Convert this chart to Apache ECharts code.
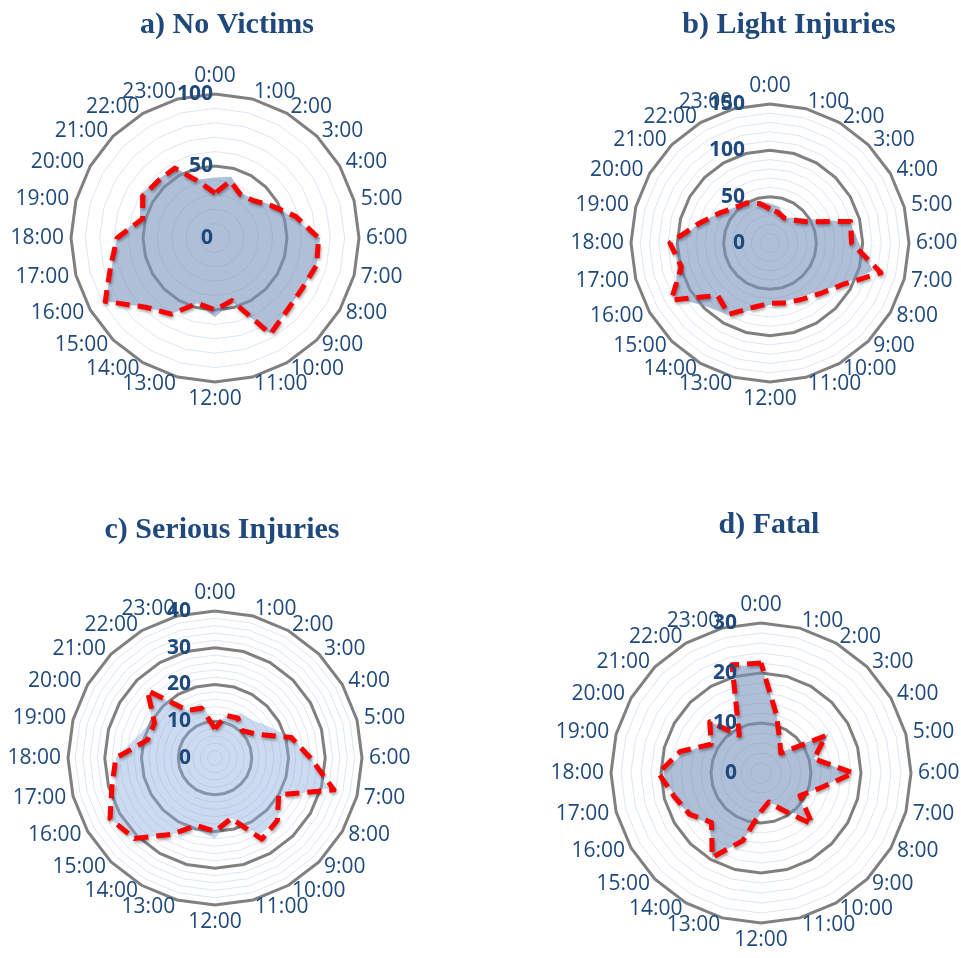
<!DOCTYPE html>
<html>
<head>
<meta charset="utf-8">
<script src="https://cdn.jsdelivr.net/npm/echarts@6/dist/echarts.min.js"></script>
<style>
  html, body { margin: 0; background: #fff; }
  #chart { width: 961px; height: 958px; }
</style>
</head>
<body>
<div id="chart"></div>
<script>
const hours = ['0:00', '1:00', '2:00', '3:00', '4:00', '5:00', '6:00', '7:00', '8:00', '9:00', '10:00', '11:00',
  '12:00', '13:00', '14:00', '15:00', '16:00', '17:00', '18:00', '19:00', '20:00', '21:00', '22:00', '23:00'];

// shaded area / red dashed line, one pair per panel
const noVictimsArea = [42, 44, 36, 38, 46, 56, 73, 73, 70, 71, 77, 46, 55, 47, 61, 68, 88, 74, 68, 54, 60, 57, 56, 42];
const noVictimsLine = [31, 41, 35, 37, 45, 58, 72, 73, 70, 71, 77, 45, 50, 47, 61, 68, 88, 75, 68, 52, 58, 56, 56, 40];
const lightArea = [43, 40, 31, 39, 51, 89, 96, 115, 90, 74, 67, 65, 67, 75, 90, 97, 118, 104, 102, 80, 64, 54, 50, 47];
const lightLine = [37, 34, 31, 35, 46, 90, 88, 124, 90, 77, 70, 67, 65, 72, 89, 80, 123, 99, 108, 80, 64, 54, 50, 44];
const seriousArea = [9, 12, 14, 14.5, 17, 21.5, 26, 32, 21, 24, 24, 17, 22, 20, 24, 31, 33, 28, 27, 22, 20, 25, 15, 15.5];
const seriousLine = [8, 12, 12.5, 10.5, 13, 21.5, 26, 33.5, 20, 24, 25.5, 17, 20, 19, 24, 31, 33, 29, 27, 19, 19, 26, 15, 14];
const fatalArea = [21.6, 12, 8, 6, 15.7, 11, 18, 12, 9, 12.7, 8, 6, 8, 14, 19.5, 14.5, 16.7, 18, 19.6, 16, 11.5, 14.5, 9.3, 22];
const fatalLine = [22, 12, 7.5, 5.6, 15, 11, 18.5, 12, 9, 14.5, 8.5, 6, 7.7, 14, 19.5, 14, 16.5, 18, 20.5, 16.7, 11.5, 14.5, 8.7, 22.4];

const panels = [
  { title: 'a) No Victims', tx: 222, ty: 5, center: [215, 238], radius: 144, max: 100, major: 2, minor: 10,
    labelMargin: 2, area: noVictimsArea, line: noVictimsLine, fill: 'rgba(120,148,188,0.6)' },
  { title: 'b) Light Injuries', tx: 784, ty: 5, center: [770, 243], radius: 139, max: 150, major: 3, minor: 15,
    labelMargin: 25, area: lightArea, line: lightLine, fill: 'rgba(120,148,188,0.6)' },
  { title: 'c) Serious Injuries', tx: 217, ty: 510, center: [215, 758], radius: 147, max: 40, major: 4, minor: 20,
    labelMargin: 24, area: seriousArea, line: seriousLine, fill: 'rgba(140,172,218,0.45)' },
  { title: 'd) Fatal', tx: 764, ty: 505, center: [761, 773], radius: 150, max: 30, major: 3, minor: 15,
    labelMargin: 24, area: fatalArea, line: fatalLine, fill: 'rgba(120,148,188,0.6)' }
];

// radar runs counter-clockwise, so keep 0:00 first and reverse the rest
const cw = arr => [arr[0]].concat(arr.slice(1).reverse());

const textBlue = '#1F497D';
const radars = [];
const series = [];
const titles = [];

panels.forEach((p, k) => {
  const names = cw(hours);
  const base = { center: p.center, radius: p.radius, shape: 'polygon', startAngle: 90,
    axisLine: { show: false }, axisTick: { show: false }, axisLabel: { show: false }, splitArea: { show: false } };

  // thin minor rings
  radars.push(Object.assign({}, base, {
    splitNumber: p.minor,
    indicator: names.map(n => ({ name: n, max: p.max })),
    axisName: { show: false },
    splitLine: { lineStyle: { color: '#DCE6F2', width: 1 } }
  }));
  // thick major rings and hour names
  radars.push(Object.assign({}, base, {
    splitNumber: p.major,
    indicator: names.map(n => ({ name: n, max: p.max })),
    nameGap: 7,
    axisName: { color: textBlue, fontSize: 21, fontFamily: 'Open Sans' },
    splitLine: { lineStyle: { color: '#808080', width: 3 } }
  }));
  // value labels on the 0:00 axis, drawn above the fill
  radars.push(Object.assign({}, base, {
    z: 10,
    splitNumber: p.major,
    indicator: names.map((n, i) => {
      const ind = { name: n, max: p.max };
      if (i === 0) {
        ind.axisLabel = {
          show: true, margin: p.labelMargin, color: textBlue, fontSize: 21,
          fontWeight: 'bold', fontFamily: 'Open Sans'
        };
      }
      return ind;
    }),
    axisName: { show: false },
    splitLine: { show: false }
  }));

  series.push({
    type: 'radar', radarIndex: 3 * k + 1, symbol: 'none', silent: true,
    data: [{
      value: cw(p.area),
      lineStyle: { width: 0, opacity: 0 },
      areaStyle: { color: p.fill, opacity: 1 }
    }]
  });
  series.push({
    type: 'radar', radarIndex: 3 * k + 1, symbol: 'none', silent: true, z: 3,
    data: [{
      value: cw(p.line),
      lineStyle: {
        color: '#FF0000', width: 5, type: [14, 8],
        shadowBlur: 3, shadowColor: 'rgba(0,0,0,0.35)', shadowOffsetX: 1, shadowOffsetY: 2
      }
    }]
  });

  titles.push({
    text: p.title, left: p.tx, top: p.ty, textAlign: 'center',
    textStyle: { fontFamily: 'Liberation Serif', fontWeight: 'bold', fontSize: 30, color: textBlue }
  });
});

const myChart = echarts.init(document.getElementById('chart'));
myChart.setOption({
  animation: false,
  title: titles,
  radar: radars,
  series: series
});
</script>
</body>
</html>
